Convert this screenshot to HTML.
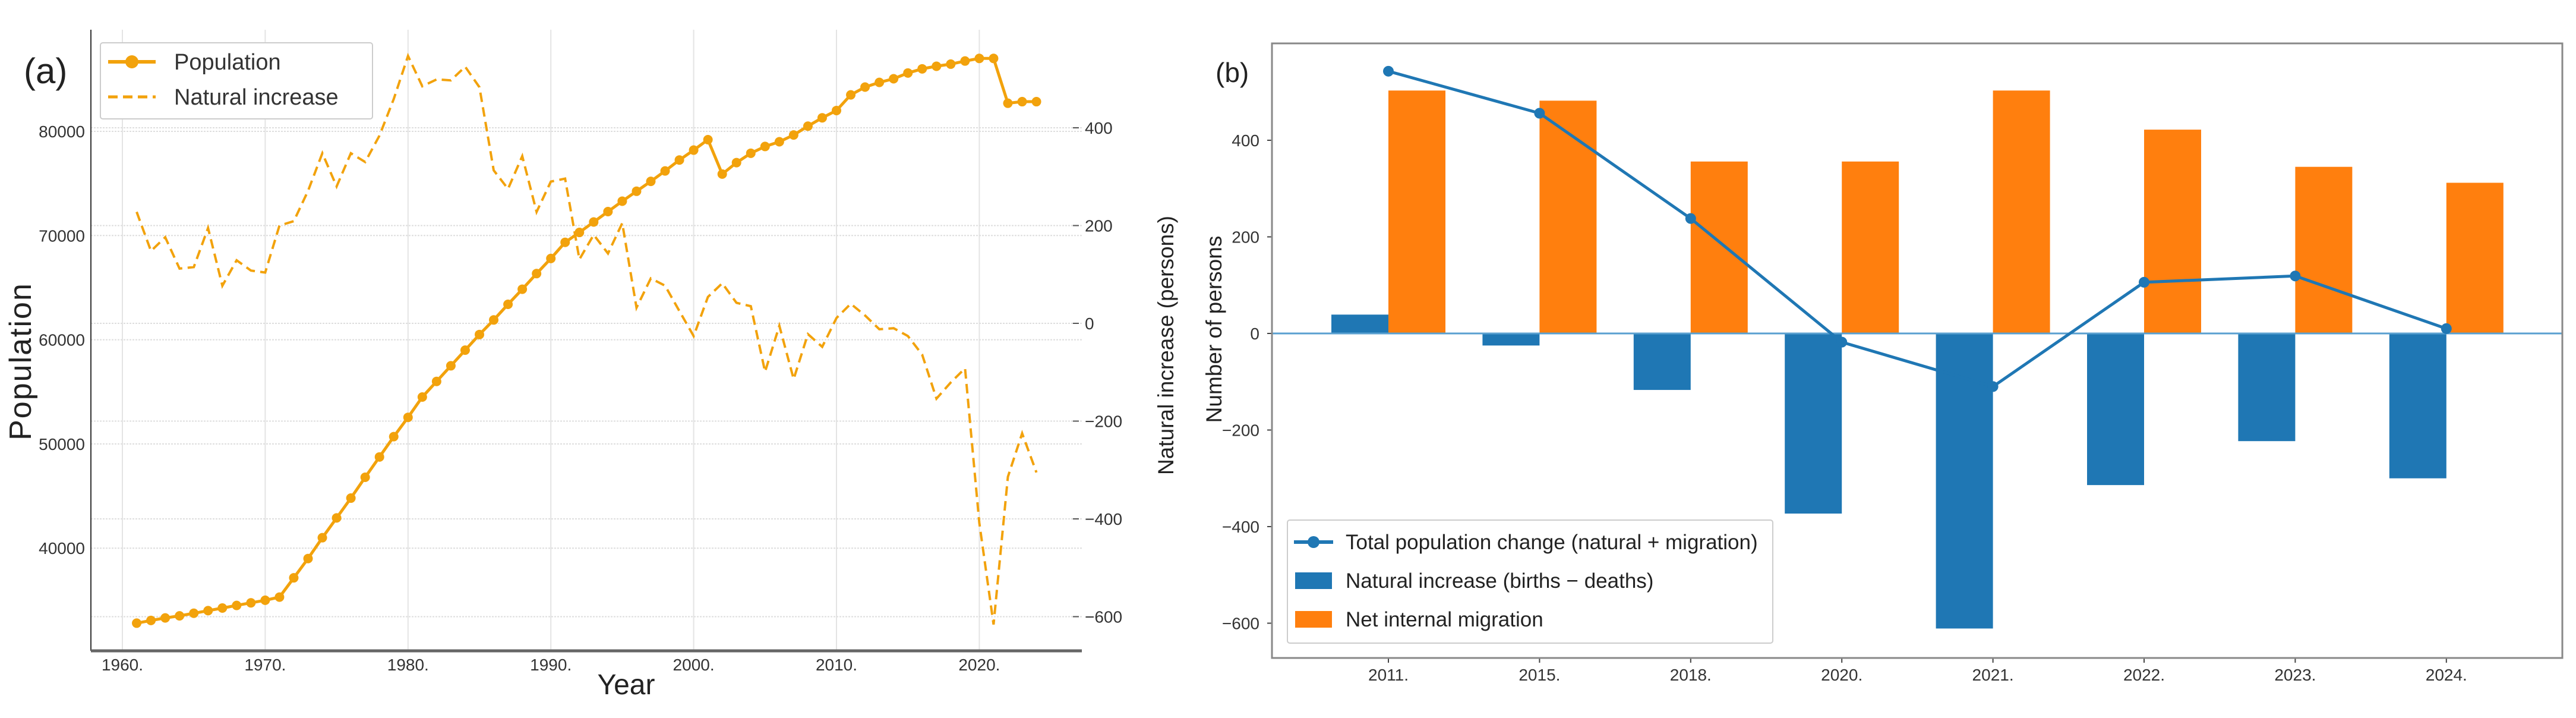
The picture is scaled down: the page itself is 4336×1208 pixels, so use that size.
<!DOCTYPE html>
<html><head><meta charset="utf-8">
<style>
html,body{margin:0;padding:0;background:#fff;}
svg{display:block;}
text{font-family:"Liberation Sans",sans-serif;}
.tk{font-family:"Liberation Sans Narrow","Liberation Sans",sans-serif;font-size:28px;fill:#333;}
</style></head>
<body>
<svg id="chart" width="4336" height="1208" viewBox="0 0 4336 1208" xmlns="http://www.w3.org/2000/svg">
<rect width="4336" height="1208" fill="#fff"/>
<g id="pa"></g>
<g id="pb"></g>
</svg>
<script>
// ---------- Panel (a) data ----------
const yearsA = [];
for (let y = 1961; y <= 2024; y++) yearsA.push(y);
const population = [32800,33060,33300,33500,33750,34000,34250,34500,34750,35000,35300,37150,39000,41000,42900,44800,46800,48750,50700,52550,54500,56000,57500,59000,60500,61900,63400,64850,66350,67800,69350,70300,71300,72300,73300,74250,75200,76200,77250,78200,79200,75900,77000,77900,78550,79000,79650,80500,81300,82000,83500,84250,84700,85050,85600,86000,86250,86450,86750,87000,87000,82700,82850,82850];
const naturalA = [228,148,176,112,115,195,77,129,108,104,200,209,271,348,280,348,330,384,459,547,485,499,497,525,483,313,275,342,228,290,296,131,181,143,205,32,92,77,25,-26,54,82,42,35,-99,-5,-114,-22,-48,11,40,16,-12,-10,-26,-64,-154,-121,-92,-408,-616,-314,-225,-305];
const xTicksA = [1960,1970,1980,1990,2000,2010,2020];
const popTicks = [40000,50000,60000,70000,80000];
const natTicks = [-600,-400,-200,0,200,400];

// ---------- Panel (b) data ----------
const catsB = ["2011.","2015.","2018.","2020.","2021.","2022.","2023.","2024."];
const naturalB = [39,-25,-117,-373,-611,-314,-223,-300];
const migrationB = [503,482,356,356,503,422,345,312];
const totalB = [543,456,238,-18,-110,106,119,10];
const yTicksB = [-600,-400,-200,0,200,400];

const NS = "http://www.w3.org/2000/svg";
function mk(parent, tag, attrs, txt) {
  const e = document.createElementNS(NS, tag);
  for (const k in attrs) e.setAttribute(k, attrs[k]);
  if (txt !== undefined) e.textContent = txt;
  parent.appendChild(e);
  return e;
}

// ===== Panel A =====
const pa = document.getElementById('pa');
const OR = "#f2a20c";
const xA = y => 206 + (y - 1960) * 24.04;
const yPop = v => 221 + (80000 - v) * 0.01753;
const yNat = v => 544 - v * 0.8225;
const LA = 153, RA = 1821, TA = 50, BA = 1095;

xTicksA.forEach(t => {
  const g = mk(pa, 'line', {x1: xA(t), x2: xA(t), y1: TA, y2: BA, stroke: '#e4e4e4', 'stroke-width': 2});
  
  
  const l = mk(pa, 'text', {x: xA(t), y: 1128, 'text-anchor': 'middle', class: 'tk'}, t + '.');
  
  
});
popTicks.forEach(t => {
  const g = mk(pa, 'line', {x1: LA, x2: RA, y1: yPop(t), y2: yPop(t), stroke: '#dedede', 'stroke-width': 2, 'stroke-dasharray': '3,2'});
  
  
  const l = mk(pa, 'text', {x: 143, y: yPop(t) + 10, 'text-anchor': 'end', class: 'tk'}, t);
  
  
});
natTicks.forEach(t => {
  const g = mk(pa, 'line', {x1: LA, x2: RA, y1: yNat(t), y2: yNat(t), stroke: '#dedede', 'stroke-width': 2, 'stroke-dasharray': '3,2'});
  
  
  mk(pa, 'line', {x1: 1806, x2: 1816, y1: yNat(t), y2: yNat(t), stroke: '#555', 'stroke-width': 2});
  const l = mk(pa, 'text', {x: 1826, y: yNat(t) + 10, class: 'tk'}, t < 0 ? '\u2212' + Math.abs(t) : t);
  
  
});
// spines
mk(pa, 'line', {x1: LA, x2: LA, y1: TA, y2: BA, stroke: '#333', 'stroke-width': 2});
mk(pa, 'line', {x1: LA, x2: RA, y1: BA, y2: BA, stroke: '#666', 'stroke-width': 5});

// natural increase dashed
let d = naturalA.map((v, i) => (i ? 'L' : 'M') + xA(yearsA[i]).toFixed(1) + ',' + yNat(v).toFixed(1)).join('');
const nl = mk(pa, 'path', {d: d, fill: 'none', stroke: OR, 'stroke-width': 4, 'stroke-dasharray': '16,9'});


// population
d = population.map((v, i) => (i ? 'L' : 'M') + xA(yearsA[i]).toFixed(1) + ',' + yPop(v).toFixed(1)).join('');
const pl = mk(pa, 'path', {d: d, fill: 'none', stroke: OR, 'stroke-width': 5});


population.forEach((v, i) => {
  const c = mk(pa, 'circle', {cx: xA(yearsA[i]), cy: yPop(v), r: 8, fill: OR});
  
  
});

// legend A
const lgA = mk(pa, 'g', {});


mk(lgA, 'rect', {x: 169, y: 72, width: 458, height: 128, fill: '#fff', stroke: '#ccc', 'stroke-width': 2, rx: 4});
mk(lgA, 'line', {x1: 182, x2: 262, y1: 104, y2: 104, stroke: OR, 'stroke-width': 6});
mk(lgA, 'circle', {cx: 222, cy: 104, r: 11, fill: OR});
mk(lgA, 'text', {x: 293, y: 117, 'font-size': 38, fill: '#333'}, 'Population');
mk(lgA, 'line', {x1: 182, x2: 262, y1: 163, y2: 163, stroke: OR, 'stroke-width': 5, 'stroke-dasharray': '16,9'});
mk(lgA, 'text', {x: 293, y: 176, 'font-size': 38, fill: '#333'}, 'Natural increase');

const la = mk(pa, 'text', {x: 40, y: 140, 'font-size': 60, 'font-family': '"Liberation Serif",serif', fill: '#222'}, '(a)');


const yla = mk(pa, 'text', {x: 0, y: 0, 'font-size': 52, 'text-anchor': 'middle', fill: '#222', transform: 'translate(52,608) rotate(-90)', 'letter-spacing': 2}, 'Population');


const xla = mk(pa, 'text', {x: 1054, y: 1168, 'font-size': 48, 'text-anchor': 'middle', fill: '#222'}, 'Year');



// ===== Panel B =====
const pb = document.getElementById('pb');
const BL = "#1f77b4", BO = "#ff7f0e";
const LB = 2141, RB = 4313, TB = 73, BB = 1107;
const xB = i => 2337 + i * 254.4;
const yB = v => 561 - v * 0.8125;
const BW = 96;

yTicksB.forEach(t => {
  mk(pb, 'line', {x1: LB - 8, x2: LB, y1: yB(t), y2: yB(t), stroke: '#444', 'stroke-width': 2});
  const l = mk(pb, 'text', {x: 2120, y: yB(t) + 10, 'text-anchor': 'end', class: 'tk'}, t < 0 ? '\u2212' + Math.abs(t) : t);
  
  
});
catsB.forEach((c, i) => {
  const nb = mk(pb, 'rect', {x: xB(i) - BW, y: Math.min(yB(0), yB(naturalB[i])), width: BW, height: Math.abs(yB(naturalB[i]) - yB(0)), fill: BL});
  
  
  const ob = mk(pb, 'rect', {x: xB(i), y: Math.min(yB(0), yB(migrationB[i])), width: BW, height: Math.abs(yB(migrationB[i]) - yB(0)), fill: BO});
  
  
  mk(pb, 'line', {x1: xB(i), x2: xB(i), y1: BB, y2: BB + 8, stroke: '#444', 'stroke-width': 2});
  const l = mk(pb, 'text', {x: xB(i), y: 1145, 'text-anchor': 'middle', class: 'tk'}, c);
  
  
});
const zl = mk(pb, 'line', {x1: LB, x2: RB, y1: yB(0), y2: yB(0), stroke: '#5aa0d0', 'stroke-width': 3});


d = totalB.map((v, i) => (i ? 'L' : 'M') + xB(i).toFixed(1) + ',' + yB(v).toFixed(1)).join('');
const tl = mk(pb, 'path', {d: d, fill: 'none', stroke: BL, 'stroke-width': 5});


totalB.forEach((v, i) => {
  const c = mk(pb, 'circle', {cx: xB(i), cy: yB(v), r: 9, fill: BL});
  
  
});
mk(pb, 'rect', {x: LB, y: TB, width: RB - LB, height: BB - TB, fill: 'none', stroke: '#888', 'stroke-width': 3});

// legend B
const lgB = mk(pb, 'g', {});


mk(lgB, 'rect', {x: 2167, y: 875, width: 817, height: 207, fill: '#fff', stroke: '#ccc', 'stroke-width': 2, rx: 4});
mk(lgB, 'line', {x1: 2178, x2: 2244, y1: 912, y2: 912, stroke: BL, 'stroke-width': 6});
mk(lgB, 'circle', {cx: 2211, cy: 912, r: 10, fill: BL});
mk(lgB, 'text', {x: 2265, y: 924, 'font-size': 35, fill: '#222', 'font-family': '"Liberation Sans Narrow","Liberation Sans",sans-serif'}, 'Total population change (natural + migration)');
mk(lgB, 'rect', {x: 2180, y: 963, width: 62, height: 28, fill: BL});
mk(lgB, 'text', {x: 2265, y: 989, 'font-size': 35, fill: '#222', 'font-family': '"Liberation Sans Narrow","Liberation Sans",sans-serif'}, 'Natural increase (births \u2212 deaths)');
mk(lgB, 'rect', {x: 2180, y: 1028, width: 62, height: 28, fill: BO});
mk(lgB, 'text', {x: 2265, y: 1054, 'font-size': 35, fill: '#222', 'font-family': '"Liberation Sans Narrow","Liberation Sans",sans-serif'}, 'Net internal migration');

const lb = mk(pb, 'text', {x: 2046, y: 138, 'font-size': 46, 'font-family': '"Liberation Serif",serif', fill: '#222'}, '(b)');


const y1 = mk(pb, 'text', {x: 0, y: 0, 'font-size': 37, 'text-anchor': 'middle', fill: '#222', transform: 'translate(1975,581) rotate(-90)'}, 'Natural increase (persons)');


const y2 = mk(pb, 'text', {x: 0, y: 0, 'font-size': 37, 'text-anchor': 'middle', fill: '#222', transform: 'translate(2056,554) rotate(-90)'}, 'Number of persons');


</script>
</body></html>
